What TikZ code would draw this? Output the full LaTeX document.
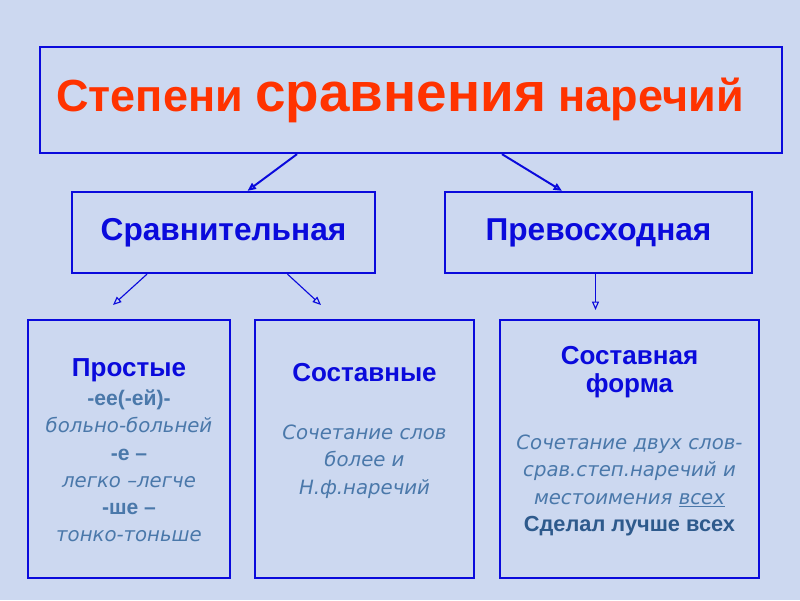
\documentclass[tikz,border=0pt]{standalone}
\usepackage{fontspec}
\setmainfont{Liberation Sans}
\newfontfamily\bodyfont{DejaVu Sans}
\usepackage{tikz}
\usetikzlibrary{positioning,arrows.meta,calc}
\definecolor{slidebg}{HTML}{CCD8F0}
\definecolor{slideblue}{HTML}{0A0ADC}
\definecolor{slidered}{HTML}{FF3300}
\definecolor{slidesteel}{HTML}{4A78AA}
\definecolor{slidedark}{HTML}{2E5A8C}
\newcommand{\suffix}[1]{{\normalfont\bfseries\fontsize{15}{19.4}\selectfont\color{slidesteel}#1}}
\newcommand{\sample}[1]{{\bodyfont\mdseries\itshape\fontsize{14}{19.4}\selectfont\color{slidesteel}#1}}

\begin{document}
\begin{tikzpicture}[x=0.025cm,y=-0.025cm,
  frame/.style={draw=slideblue,line width=1.6pt,inner sep=0pt},
  head/.style={font=\bfseries\fontsize{22.5}{26}\selectfont,text=slideblue},
  sub/.style={font=\bfseries\fontsize{18.5}{20}\selectfont,text=slideblue,align=center},
  body/.style={font=\bodyfont\itshape\fontsize{14}{19.4}\selectfont,text=slidesteel,align=center},
  link/.style={draw=slideblue,line width=1.4pt,-{Triangle[open,length=6pt,width=5pt]}},
  thin/.style={draw=slideblue,line width=0.8pt,-{Triangle[open,length=6pt,width=5pt]}}
]
\fill[slidebg] (0,0) rectangle (800,600);
% top
\node[frame,minimum width=18.55cm,minimum height=2.65cm] (title) at (411,100) {};
\node[text=slidered,font=\bfseries\fontsize{32}{36}\selectfont] (titletext) at (400,100)
  {Степени {\fontsize{39}{40}\selectfont сравнения} наречий};
% second row
\node[frame,minimum width=7.575cm,minimum height=2.025cm,head] (srav) at (223.5,232.5) {Сравнительная};
\node[frame,minimum width=7.675cm,minimum height=2.025cm,head] (prev) at (598.5,232.5) {Превосходная};
% bottom row
\node[frame,minimum width=5.05cm,minimum height=6.45cm] (prost) at (129,449) {};
\node[frame,minimum width=5.475cm,minimum height=6.45cm] (sost) at (364.5,449) {};
\node[frame,minimum width=6.475cm,minimum height=6.45cm] (sform) at (629.5,449) {};
\node[sub,font=\bfseries\fontsize{18.5}{19.4}\selectfont,anchor=north] (prosttext) at (129,354) {Простые\\[1pt]
  \suffix{-ее(-ей)-}\\ \sample{больно-больней}\\ \suffix{-е –}\\
  \sample{легко –легче}\\ \suffix{-ше –}\\ \sample{тонко-тоньше}};
\node[sub,anchor=north] (sosthead) at (364.5,358) {Составные};
\node[body,anchor=north] (sosttext) at (364.5,420) {Сочетание слов\\более и\\Н.ф.наречий};
\node[sub,anchor=north] (sformhead) at (629.5,341) {Составная\\форма};
\node[body,anchor=north] (sformtext) at (629.5,430) {Сочетание двух слов-\\срав.степ.наречий и\\местоимения \underline{всех}\\
  {\normalfont\bfseries\fontsize{15.5}{19.4}\selectfont\color{slidedark}Сделал лучше всех}};
% free ends
\coordinate (prostin) at (113,305);
\coordinate (sostin) at (321,305);
\coordinate (sformin) at (595.5,310);
% arrows
\draw[link] ($(title.south)+(-114,0)$) -- ($(srav.north)+(24,0)$);
\draw[link] ($(title.south)+(91,0)$) -- ($(prev.north)+(-36.5,0)$);
\draw[thin] ($(srav.south)+(-76.5,0)$) -- (prostin);
\draw[thin] ($(srav.south)+(64,0)$) -- (sostin);
\draw[thin] (prev.south -| sformin) -- (sformin);
\end{tikzpicture}
\end{document}
